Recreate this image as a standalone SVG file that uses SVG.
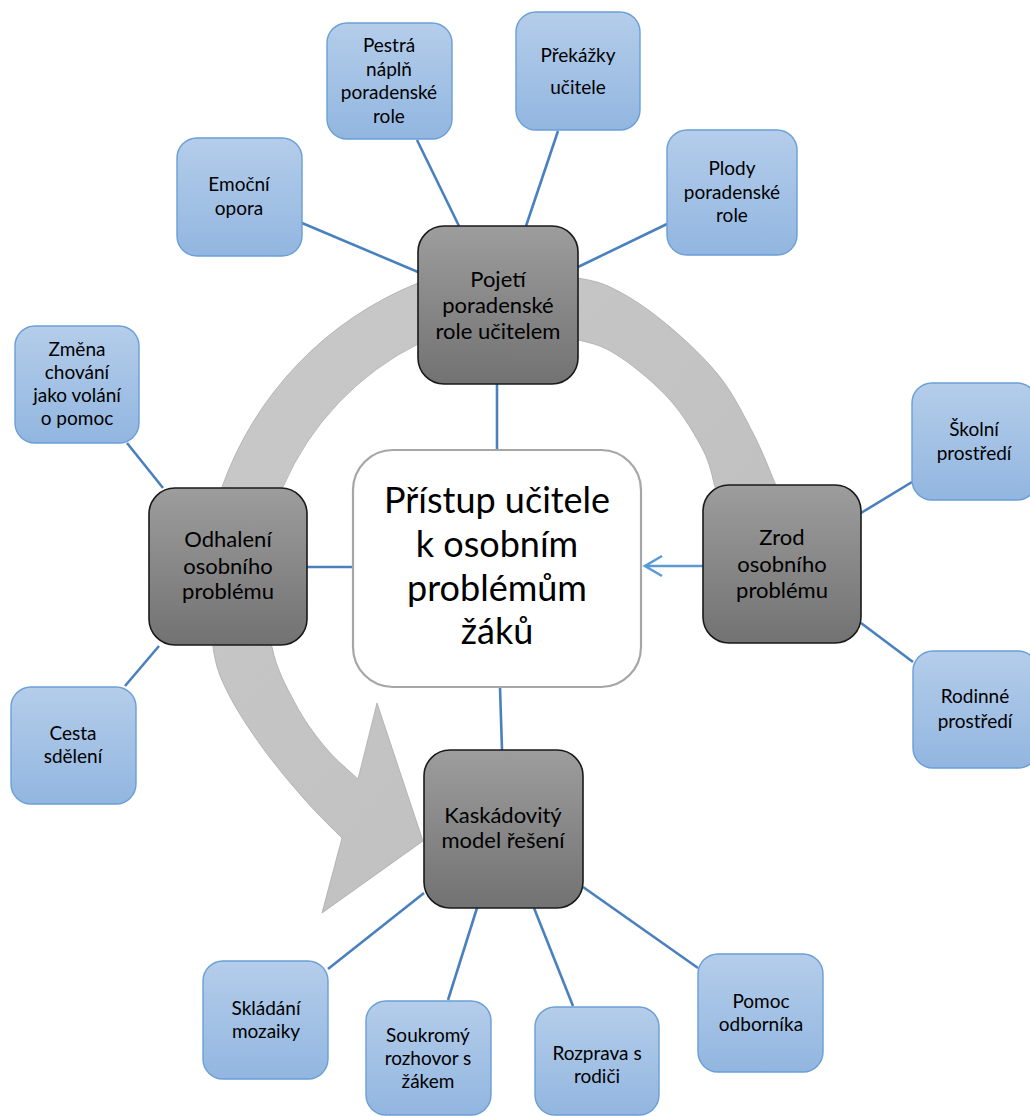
<svg xmlns="http://www.w3.org/2000/svg" width="1030" height="1116" viewBox="0 0 1030 1116">
<defs>
<linearGradient id="gBlue" x1="0" y1="0" x2="0" y2="1">
<stop offset="0" stop-color="#b4cdea"/>
<stop offset="1" stop-color="#92b6e0"/>
</linearGradient>
<linearGradient id="gDark" x1="0" y1="0" x2="0" y2="1">
<stop offset="0" stop-color="#9d9d9d"/>
<stop offset="1" stop-color="#727272"/>
</linearGradient>
<linearGradient id="gBand" x1="0" y1="0" x2="1" y2="1">
<stop offset="0" stop-color="#c9c9c9"/>
<stop offset="1" stop-color="#bdbdbd"/>
</linearGradient>
</defs>
<style>
.blue{fill:url(#gBlue);stroke:#6a9fd6;stroke-width:1.4}
.dark{fill:url(#gDark);stroke:#1a1a1a;stroke-width:1.6}
.center{fill:#ffffff;stroke:#a6a6a6;stroke-width:2.2}
.con{stroke:#4a80bd;stroke-width:2.6;fill:none}
.arr{stroke:#5b9bd5;stroke-width:2.6;fill:none}
text{font-family:Lato,"Liberation Sans",sans-serif;fill:#000;text-anchor:middle}
.tb{font-size:19px}
.td{font-size:22px}
.tc{font-size:36px}
</style>
<rect width="1030" height="1116" fill="#ffffff"/>
<g id="cycle-arrow">
<path fill="url(#gBand)" stroke="#ababab" stroke-width="0.8" d="M783,505 C781.7,501.3 780,495 775,483 C770,471 762.2,450.7 753,433 C743.8,415.3 733.8,394.7 720,377 C706.2,359.3 686.7,341.2 670,327 C653.3,312.8 635.3,300.2 620,292 C604.7,283.8 598,281.5 578,278 C558,274.5 526.7,270.2 500,271 C473.3,271.8 447.5,271.8 418,283 A343.5,343.5 0 0 0 222,487 C213,512.5 211.5,540.3 210,567 C208.5,593.7 210,626 213,647 C216,668 219.8,676.3 228,693 C236.2,709.7 249.2,729.2 262,747 C274.8,764.8 291.7,784.8 305,800 C318.3,815.2 335.8,831.7 342,838 L322,913 L423,841 L377,703 L358,779 C352.5,773.7 335.5,759.7 325,747 C314.5,734.3 303.8,719.7 295,703 C286.2,686.3 276.7,669.7 272,647 C267.3,624.3 265.2,593.7 267,567 C268.8,540.3 276.2,507.9 283,487 A287.5,287.5 0 0 1 420,343 C440.1,336.4 471.7,330.5 498,330 C524.3,329.5 557.7,335.5 578,340 C598.3,344.5 604.7,347 620,357 C635.3,367 656.2,384.5 670,400 C683.8,415.5 695.5,435.5 703,450 C710.5,464.5 712.3,477.8 715,487 C717.7,496.2 718.3,502 719,505 Z"/>
</g>
<g id="connectors">
<line class="con" x1="302" y1="223" x2="418" y2="272"/>
<line class="con" x1="417" y1="140" x2="459" y2="226"/>
<line class="con" x1="558" y1="131" x2="526" y2="226"/>
<line class="con" x1="667" y1="224" x2="578" y2="267"/>
<line class="con" x1="497" y1="384" x2="497" y2="450"/>
<line class="con" x1="127" y1="443" x2="163" y2="488"/>
<line class="con" x1="125" y1="686" x2="159" y2="646"/>
<line class="con" x1="307" y1="567" x2="353" y2="567"/>
<path class="arr" d="M703,566 H645 M662,556 L645,566 L662,576"/>
<line class="con" x1="912" y1="482" x2="861" y2="513"/>
<line class="con" x1="861" y1="623" x2="913" y2="662"/>
<line class="con" x1="500" y1="687" x2="502" y2="750"/>
<line class="con" x1="328" y1="969" x2="424" y2="893"/>
<line class="con" x1="448" y1="1000" x2="477" y2="908"/>
<line class="con" x1="573" y1="1006" x2="534" y2="908"/>
<line class="con" x1="698" y1="968" x2="583" y2="887"/>
</g>
<g id="center">
<rect class="center" x="353" y="450" width="288" height="237" rx="40"/>
<text class="tc"><tspan x="497" y="513">Přístup učitele</tspan><tspan x="497" y="557">k osobním</tspan><tspan x="497" y="601">problémům</tspan><tspan x="497" y="644">žáků</tspan></text>
</g>
<g id="pojeti">
<rect class="dark" x="418" y="226" width="160" height="158" rx="26"/>
<text class="td"><tspan x="498" y="287">Pojetí</tspan><tspan x="498" y="313">poradenské</tspan><tspan x="498" y="339">role učitelem</tspan></text>
</g>
<g id="zrod">
<rect class="dark" x="703" y="485" width="158" height="158" rx="26"/>
<text class="td"><tspan x="782" y="545">Zrod</tspan><tspan x="782" y="572">osobního</tspan><tspan x="782" y="598">problému</tspan></text>
</g>
<g id="odhaleni">
<rect class="dark" x="149" y="488" width="158" height="157" rx="26"/>
<text class="td"><tspan x="228" y="547">Odhalení</tspan><tspan x="228" y="574">osobního</tspan><tspan x="228" y="599">problému</tspan></text>
</g>
<g id="kaskadovity">
<rect class="dark" x="424" y="750" width="159" height="158" rx="26"/>
<text class="td"><tspan x="503" y="823">Kaskádovitý</tspan><tspan x="503" y="848">model řešení</tspan></text>
</g>
<g id="emocni">
<rect class="blue" x="177" y="138" width="125" height="118" rx="20"/>
<text class="tb"><tspan x="239" y="191">Emoční</tspan><tspan x="239" y="215">opora</tspan></text>
</g>
<g id="pestra">
<rect class="blue" x="327" y="23" width="125" height="116" rx="20"/>
<text class="tb"><tspan x="389" y="52">Pestrá</tspan><tspan x="389" y="76">náplň</tspan><tspan x="389" y="99">poradenské</tspan><tspan x="389" y="123">role</tspan></text>
</g>
<g id="prekazky">
<rect class="blue" x="516" y="12" width="124" height="118" rx="20"/>
<text class="tb"><tspan x="578" y="62">Překážky</tspan><tspan x="578" y="94">učitele</tspan></text>
</g>
<g id="plody">
<rect class="blue" x="667" y="130" width="130" height="125" rx="20"/>
<text class="tb"><tspan x="732" y="175">Plody</tspan><tspan x="732" y="199">poradenské</tspan><tspan x="732" y="222">role</tspan></text>
</g>
<g id="zmena">
<rect class="blue" x="15" y="326" width="124" height="117" rx="20"/>
<text class="tb"><tspan x="77" y="356">Změna</tspan><tspan x="77" y="379">chování</tspan><tspan x="77" y="402">jako volání</tspan><tspan x="77" y="425">o pomoc</tspan></text>
</g>
<g id="cesta">
<rect class="blue" x="11" y="687" width="125" height="117" rx="20"/>
<text class="tb"><tspan x="73" y="740">Cesta</tspan><tspan x="73" y="763">sdělení</tspan></text>
</g>
<g id="skolni">
<rect class="blue" x="912" y="383" width="125" height="117" rx="20"/>
<text class="tb"><tspan x="974" y="436">Školní</tspan><tspan x="974" y="460">prostředí</tspan></text>
</g>
<g id="rodinne">
<rect class="blue" x="913" y="651" width="125" height="117" rx="20"/>
<text class="tb"><tspan x="975" y="703">Rodinné</tspan><tspan x="975" y="728">prostředí</tspan></text>
</g>
<g id="skladani">
<rect class="blue" x="203" y="961" width="125" height="118" rx="20"/>
<text class="tb"><tspan x="266" y="1015">Skládání</tspan><tspan x="266" y="1038">mozaiky</tspan></text>
</g>
<g id="soukromy">
<rect class="blue" x="366" y="1001" width="125" height="114" rx="20"/>
<text class="tb"><tspan x="428" y="1042">Soukromý</tspan><tspan x="428" y="1065">rozhovor s</tspan><tspan x="428" y="1088">žákem</tspan></text>
</g>
<g id="rozprava">
<rect class="blue" x="535" y="1007" width="124" height="108" rx="20"/>
<text class="tb"><tspan x="597" y="1060">Rozprava s</tspan><tspan x="597" y="1083">rodiči</tspan></text>
</g>
<g id="pomoc">
<rect class="blue" x="698" y="954" width="125" height="118" rx="20"/>
<text class="tb"><tspan x="761" y="1008">Pomoc</tspan><tspan x="761" y="1031">odborníka</tspan></text>
</g>
</svg>
